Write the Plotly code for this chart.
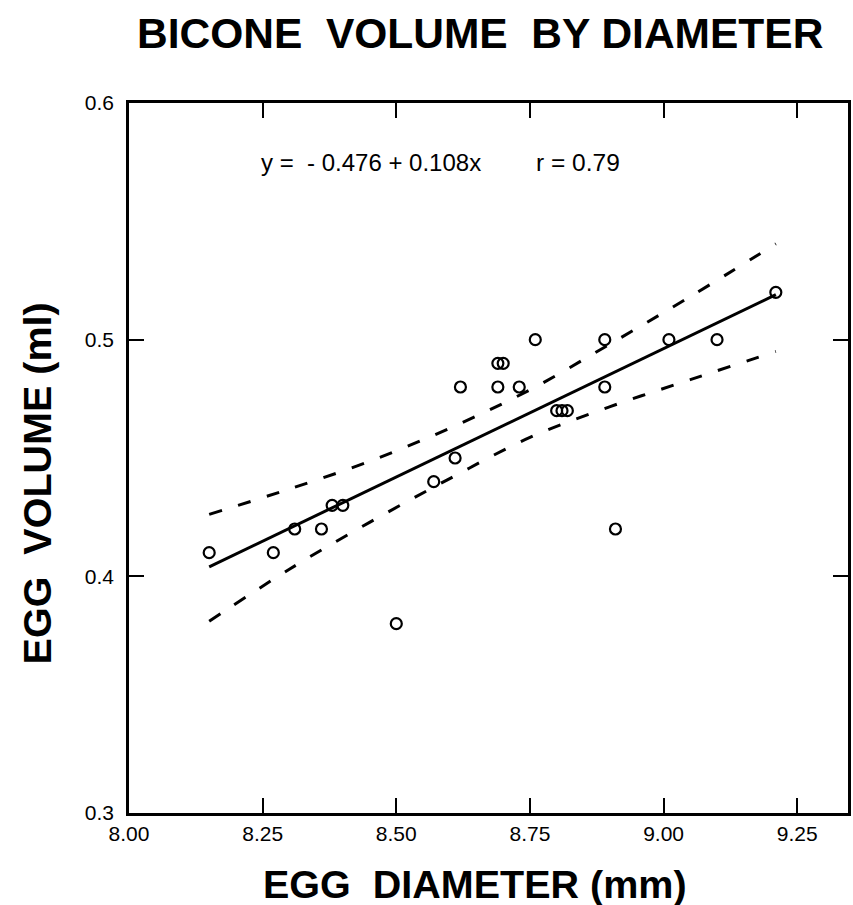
import plotly.graph_objects as go

# Observed data
diameter = [8.15, 8.27, 8.31, 8.36, 8.38, 8.40, 8.50, 8.57, 8.61, 8.62,
            8.69, 8.70, 8.69, 8.73, 8.76, 8.80, 8.81, 8.82, 8.89, 8.89,
            8.91, 9.01, 9.10, 9.21]
volume = [0.41, 0.41, 0.42, 0.42, 0.43, 0.43, 0.38, 0.44, 0.45, 0.48,
          0.49, 0.49, 0.48, 0.48, 0.50, 0.47, 0.47, 0.47, 0.50, 0.48,
          0.42, 0.50, 0.50, 0.52]

# Regression line end points
fit_x = [8.15, 9.21]
fit_y = [0.404, 0.519]

# Confidence band
band_x = [8.15, 8.30, 8.45, 8.60, 8.75, 8.90, 9.05, 9.21]
band_upper = [0.4262, 0.4369, 0.4486, 0.4626, 0.4788, 0.4982, 0.5182, 0.5405]
band_lower = [0.3810, 0.4030, 0.4228, 0.4413, 0.4587, 0.4717, 0.4831, 0.4950]

x_ticks = [8.00, 8.25, 8.50, 8.75, 9.00, 9.25]
x_tick_text = ["8.00", "8.25", "8.50", "8.75", "9.00", "9.25"]
y_ticks = [0.3, 0.4, 0.5, 0.6]
y_tick_text = ["0.3", "0.4", "0.5", "0.6"]

FONT = "Liberation Sans, Arial, Helvetica, sans-serif"
NB = "\u00a0"

fig = go.Figure()
fig.add_trace(go.Scatter(x=band_x, y=band_upper, mode="lines", line_shape="spline",
                         line=dict(color="black", width=3, dash="13px,17px"),
                         showlegend=False, hoverinfo="skip"))
fig.add_trace(go.Scatter(x=band_x, y=band_lower, mode="lines", line_shape="spline",
                         line=dict(color="black", width=3, dash="13px,17px"),
                         showlegend=False, hoverinfo="skip"))
fig.add_trace(go.Scatter(x=fit_x, y=fit_y, mode="lines",
                         line=dict(color="black", width=3),
                         showlegend=False))
fig.add_trace(go.Scatter(x=diameter, y=volume, mode="markers",
                         marker=dict(symbol="circle-open", size=11, color="black",
                                     line=dict(width=2.2, color="black")),
                         showlegend=False))

axis_common = dict(showgrid=False, zeroline=False, showline=True, linecolor="black",
                   linewidth=2.5, mirror="ticks", ticks="inside", ticklen=15,
                   tickwidth=2, tickcolor="black",
                   tickfont=dict(family=FONT, size=21, color="black"))

fig.update_xaxes(range=[8.0, 9.345], tickvals=x_ticks, ticktext=x_tick_text, **axis_common)
fig.update_yaxes(range=[0.3, 0.6], tickvals=y_ticks, ticktext=y_tick_text,
                 ticklabelstandoff=8, **axis_common)

annotations = [
    dict(text="<b>BICONE" + NB * 2 + "VOLUME" + NB * 2 + "BY DIAMETER</b>",
         x=481, y=34, font=dict(size=42.5)),
    dict(text="<b>EGG" + NB * 2 + "DIAMETER" + NB + "(mm)</b>",
         x=476, y=884, font=dict(size=39.5)),
    dict(text="<b>EGG" + NB * 2 + "VOLUME" + NB + "(ml)</b>",
         x=37, y=483, font=dict(size=39.5), textangle=-90),
    dict(text="y =" + NB * 2 + "- 0.476 + 0.108x", x=372, y=162, font=dict(size=24)),
    dict(text="r = 0.79", x=580, y=162, font=dict(size=24.5)),
]

W, H = 853, 905
L, R, T, B = 129, 2, 103, 92
pw, ph = W - L - R, H - T - B
for a in annotations:
    fig.add_annotation(
        text=a["text"], xref="paper", yref="paper",
        x=(a["x"] - L) / pw, y=1 - (a["y"] - T) / ph,
        xanchor="center", yanchor="middle", showarrow=False,
        textangle=a.get("textangle", 0),
        font=dict(family=FONT, color="black", **a["font"]),
    )

fig.update_layout(width=W, height=H, margin=dict(l=L, r=R, t=T, b=B),
                  plot_bgcolor="white", paper_bgcolor="white")

fig.write_html("out.html")
